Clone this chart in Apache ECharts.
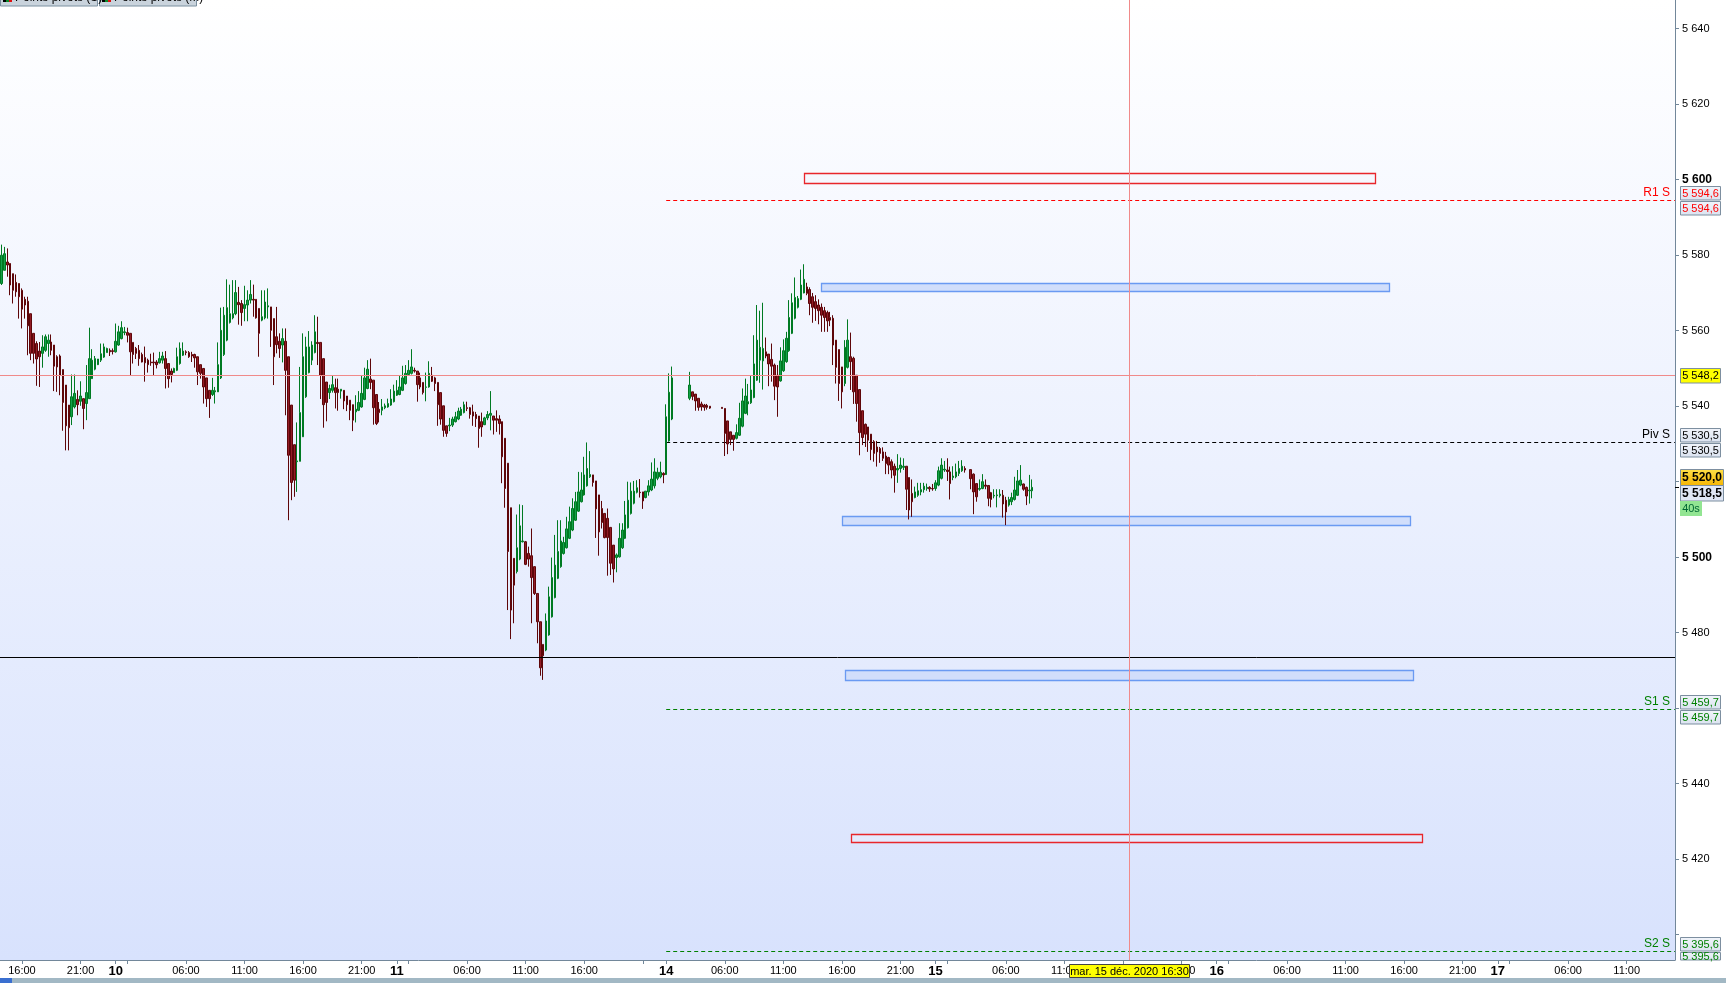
<!DOCTYPE html>
<html><head><meta charset="utf-8">
<script src="https://cdn.jsdelivr.net/npm/echarts@6/dist/echarts.min.js"></script>
<style>html,body{margin:0;padding:0;background:#fff;overflow:hidden}#c{width:1726px;height:983px}</style>
</head><body><div id="c"></div>
<script>
// ---- 15-minute candles, each row = [open, close, low, high]; null = no trading in that slot ----
const ohlcDec09 = [
[5572.5,5580.0,5572.1,5582.8],[5576.0,5580.4,5576.0,5582.2],[5578.2,5577.4,5574.3,5581.8],[5577.8,5572.1,5569.4,5577.8],
[5575.1,5570.7,5567.2,5575.1],[5572.8,5570.3,5569.0,5574.9],[5572.5,5569.0,5563.2,5572.5],[5570.7,5565.7,5560.6,5571.2],
[5568.3,5566.8,5563.2,5569.0],[5567.8,5561.3,5553.5,5569.0],[5564.5,5554.0,5552.2,5564.5],[5559.3,5554.0,5551.3,5559.3],
[5556.6,5552.5,5545.4,5557.2],[5554.6,5553.1,5545.1,5557.0],[5554.0,5555.7,5550.2,5558.8],[5554.8,5558.4,5554.4,5559.0],
[5556.6,5557.5,5553.1,5559.0],[5557.0,5554.8,5553.5,5559.0],[5556.2,5550.6,5544.0,5556.2],[5553.1,5550.4,5543.8,5553.5],
[5553.3,5548.2,5542.9,5553.7],[5549.7,5541.0,5533.5,5549.7],[5545.6,5534.8,5528.3,5545.6],[5540.3,5534.3,5528.3,5540.3],
[5537.2,5542.5,5535.0,5548.4],[5539.8,5543.4,5539.4,5548.4],[5541.8,5540.4,5537.6,5544.2],[5541.3,5542.7,5540.1,5546.6],
[5542.0,5539.4,5533.9,5542.0],[5540.7,5543.6,5536.3,5550.9],[5542.0,5552.6,5542.0,5560.8],[5547.3,5552.2,5547.2,5555.1],
[5549.8,5552.6,5549.5,5553.3],[5551.0,5552.5,5550.9,5552.5],[5552.2,5553.9,5551.7,5556.6],[5553.0,5555.7,5552.8,5556.6],
[5554.2,5555.3,5554.2,5555.5],[5554.8,5554.4,5553.3,5555.3],[5554.7,5554.5,5553.7,5555.3]
];
const ohlcDec10 = [
[5554.4,5557.2,5554.2,5561.9],[5556.2,5559.7,5556.0,5561.3],[5557.9,5560.8,5557.7,5562.5],[5559.5,5559.7,5558.8,5561.0],
[5559.5,5558.8,5556.9,5560.8],[5559.3,5554.4,5548.2,5559.3],[5556.9,5553.7,5551.3,5556.9],[5555.3,5554.0,5552.5,5555.7],
[5554.8,5552.6,5550.7,5556.2],[5553.7,5551.7,5551.6,5554.2],[5552.9,5551.5,5546.5,5555.8],[5552.2,5551.0,5548.9,5552.6],
[5551.7,5551.5,5550.7,5553.9],[5551.7,5551.5,5548.2,5554.2],[5551.7,5551.0,5550.0,5552.2],[5551.5,5552.6,5551.3,5554.4],
[5552.2,5553.3,5551.3,5554.4],[5552.6,5550.0,5544.7,5554.6],[5551.3,5547.3,5544.9,5551.3],[5549.3,5548.4,5546.3,5550.0],
[5548.9,5550.0,5548.9,5550.2],[5549.5,5553.1,5549.3,5555.5],[5551.3,5555.3,5551.0,5556.9],[5553.5,5554.6,5553.3,5556.9],
[5554.4,5554.2,5553.5,5554.8],[5554.2,5553.1,5552.8,5554.6],[5553.7,5553.3,5551.7,5554.4],[5553.7,5552.8,5550.2,5553.9],
[5553.1,5549.1,5545.6,5553.1],[5551.0,5548.7,5547.3,5551.0],[5550.0,5545.1,5540.7,5550.0],[5547.5,5542.0,5539.8,5547.5],
[5544.2,5542.0,5536.9,5544.2],[5543.1,5544.2,5542.7,5547.5],[5543.8,5544.1,5540.7,5545.1],[5543.8,5551.0,5543.8,5556.9],
[5547.5,5560.1,5547.2,5566.1],[5553.7,5564.1,5553.3,5566.3],[5557.5,5566.1,5557.2,5573.6],[5562.2,5564.5,5561.9,5572.2],
[5563.4,5564.5,5563.0,5573.4],[5564.5,5570.1,5564.1,5573.4],[5567.5,5566.9,5561.6,5571.6],[5567.2,5564.8,5561.3,5568.1],
[5565.9,5566.9,5562.5,5571.9],[5566.8,5568.1,5562.5,5570.7],[5568.1,5569.6,5567.2,5573.4],[5568.3,5568.1,5563.7,5572.2],
[5568.3,5563.4,5563.2,5568.3],[5565.9,5559.3,5553.1,5565.9],[5562.8,5563.7,5562.5,5570.7],[5563.4,5567.6,5563.0,5570.7],
[5566.3,5566.6,5563.2,5571.2],[5566.3,5560.1,5555.7,5566.3],[5563.2,5553.1,5545.6,5563.2],[5558.4,5556.3,5554.0,5566.3],
[5557.2,5555.3,5552.8,5559.3],[5556.2,5557.9,5551.6,5560.6],[5557.2,5549.5,5537.6,5560.6],[5553.1,5527.0,5509.8,5553.1],
[5540.3,5519.8,5515.1,5540.3],[5529.8,5520.4,5516.0,5529.8],[5525.3,5525.5,5517.3,5535.7],[5525.4,5538.3,5525.4,5550.4],
[5531.9,5553.1,5531.9,5559.3],[5542.5,5555.7,5542.2,5558.4],[5548.9,5555.7,5548.7,5559.9],[5552.2,5556.2,5550.9,5557.2],
[5554.2,5559.7,5554.0,5564.1],[5556.9,5556.6,5550.9,5563.7],[5556.9,5548.2,5541.9,5556.9],[5552.6,5540.4,5534.3,5552.6],
[5546.4,5541.0,5536.0,5546.4],[5543.6,5544.7,5541.9,5545.7],[5544.2,5545.7,5543.6,5548.0],[5544.9,5543.6,5539.4,5547.3],
[5544.5,5543.6,5538.8,5547.3],[5544.0,5544.5,5542.0,5544.5],[5544.2,5541.4,5539.2,5544.2],[5542.7,5540.4,5538.7,5542.7],
[5541.6,5538.9,5536.3,5541.6],[5540.4,5536.3,5533.4,5540.4],[5538.5,5539.2,5535.7,5542.9],[5538.9,5541.0,5538.7,5544.0],
[5539.8,5543.4,5539.6,5548.0],[5541.8,5547.5,5541.6,5550.2],[5544.7,5549.8,5544.5,5552.2],[5547.2,5546.3,5544.5,5552.6],
[5546.9,5539.6,5535.1,5546.9],[5543.1,5535.4,5535.0,5543.1],[5539.2,5538.3,5535.7,5541.1],[5538.9,5539.8,5537.6,5541.9],
[5539.6,5540.1,5539.2,5540.7],[5539.8,5540.7,5539.6,5542.0],[5540.3,5541.9,5540.1,5544.5],[5541.2,5544.0,5541.0,5545.7]
];
const ohlcDec11 = [
[5542.9,5544.2,5542.7,5546.9],[5543.1,5545.1,5542.9,5548.0],[5544.2,5547.5,5544.0,5550.7],[5546.0,5548.7,5545.7,5550.9],
[5548.4,5549.5,5548.0,5552.2],[5548.7,5550.4,5548.4,5555.1],[5549.5,5549.3,5548.9,5550.2],[5549.3,5545.7,5541.2,5549.3],
[5547.5,5545.1,5544.5,5548.9],[5546.3,5543.6,5543.1,5546.3],[5545.0,5545.1,5541.3,5548.9],[5545.1,5548.7,5544.9,5551.9],
[5548.2,5546.6,5546.4,5550.4],[5547.5,5546.0,5544.0,5547.8],[5546.3,5540.4,5534.8,5546.3],[5543.6,5536.6,5535.1,5543.6],
[5540.1,5533.6,5531.9,5540.1],[5534.8,5532.8,5531.9,5534.8],[5534.8,5535.0,5533.4,5536.9],[5535.0,5536.6,5534.5,5537.2],
[5535.9,5537.2,5535.7,5538.5],[5536.6,5538.7,5536.3,5539.6],[5537.6,5539.2,5537.4,5539.8],[5538.3,5540.4,5538.1,5541.2],
[5539.6,5539.4,5538.7,5541.2],[5539.6,5537.8,5536.7,5539.8],[5538.5,5537.4,5534.8,5540.4],[5537.8,5536.7,5534.5,5538.5],
[5537.4,5534.1,5529.0,5537.4],[5535.9,5534.5,5531.9,5538.3],[5535.1,5536.9,5535.0,5537.2],[5536.9,5537.8,5536.3,5538.7],
[5537.6,5538.1,5533.6,5544.0],[5537.4,5536.3,5532.5,5537.4],[5536.7,5536.3,5533.2,5538.9],[5536.6,5535.4,5532.5,5537.6],
[5535.9,5526.6,5519.6,5535.9],[5531.5,5518.2,5513.1,5531.5],[5524.9,5501.5,5486.0,5524.9],[5513.1,5486.0,5478.3,5513.1],
[5499.7,5492.6,5482.5,5499.7],[5496.2,5502.5,5495.7,5511.3],[5499.5,5508.3,5499.2,5514.0],[5504.1,5504.3,5503.9,5513.8],
[5504.1,5498.1,5497.9,5504.3],[5501.0,5499.5,5497.5,5502.8],[5500.4,5494.6,5482.5,5507.6],[5497.5,5490.4,5490.0,5497.5],
[5490.4,5482.9,5477.2,5490.4],[5482.9,5470.7,5468.6,5482.9],[5476.9,5473.9,5467.5,5476.9],[5475.4,5483.1,5475.1,5485.1],
[5479.4,5489.5,5479.2,5492.2],[5484.2,5494.6,5484.0,5499.9],[5489.3,5497.9,5489.1,5505.9],[5494.4,5501.5,5494.2,5509.8],
[5497.5,5504.3,5497.2,5509.8],[5501.0,5503.9,5500.7,5505.4],[5502.5,5507.5,5502.3,5510.7],[5505.0,5509.4,5504.8,5513.4],
[5507.2,5512.9,5506.9,5515.6],[5509.8,5514.7,5509.6,5517.3],[5512.2,5517.3,5512.0,5522.6],[5514.7,5517.8,5514.5,5522.5],
[5516.5,5521.8,5516.3,5526.6],[5518.9,5523.5,5518.7,5530.4],[5521.3,5521.9,5521.0,5528.1],[5521.8,5519.8,5518.7,5521.8],
[5520.2,5512.8,5505.1,5520.2],[5516.5,5506.7,5500.4,5516.5],[5512.9,5509.2,5507.6,5514.9],[5511.6,5505.2,5505.0,5511.6],
[5510.3,5505.2,5495.1,5512.9],[5507.9,5498.4,5495.3,5507.9],[5503.2,5496.9,5493.3,5503.2],[5499.9,5500.6,5496.0,5501.0],
[5500.1,5505.0,5499.9,5509.0],[5502.5,5507.2,5502.2,5509.0],[5505.0,5511.2,5504.8,5514.9],[5507.8,5515.1,5507.6,5520.0],
[5511.6,5517.5,5511.3,5519.8],[5514.3,5517.5,5514.0,5520.2],[5517.2,5518.4,5516.9,5520.4],[5517.2,5517.1,5515.8,5520.7],
[5517.3,5514.9,5512.8,5517.3],[5515.8,5517.5,5515.6,5517.5],[5517.3,5518.9,5516.3,5520.4],[5517.8,5520.7,5517.5,5525.1],
[5518.9,5522.6,5518.2,5526.2],[5520.9,5522.5,5520.4,5523.7],[5521.3,5522.5,5520.9,5525.3],[5522.2,5521.8,5519.6,5522.5]
];
const ohlcDec14 = [
[5521.9,5537.2,5521.8,5540.5],[5530.8,5543.7,5530.6,5548.7],[5536.6,5547.5,5536.3,5550.5],
null,null,null,null,null,
[5542.1,5545.6,5541.6,5549.1],[5543.8,5542.6,5541.6,5543.8],[5543.2,5541.4,5538.8,5543.2],[5542.1,5539.7,5538.8,5542.1],
[5540.6,5539.8,5538.8,5541.2],[5540.3,5539.7,5538.8,5540.6],[5540.2,5539.7,5539.1,5540.6],[5540.0,5539.5,5539.3,5540.0],
null,null,null,
[5539.7,5539.4,5539.4,5539.7],[5539.4,5532.8,5526.8,5539.4],[5536.1,5530.0,5527.3,5536.1],[5533.2,5531.2,5529.7,5533.2],
[5532.3,5531.2,5528.2,5532.3],[5531.5,5533.0,5531.2,5535.2],[5532.3,5536.8,5532.1,5540.9],[5534.7,5541.4,5534.4,5544.7],
[5538.1,5542.7,5537.9,5547.3],[5540.6,5541.2,5537.6,5545.9],[5540.9,5544.3,5540.6,5548.2],[5542.3,5551.2,5542.1,5558.8],
[5546.9,5557.5,5546.7,5566.8],[5552.2,5555.6,5546.2,5565.3],[5552.0,5555.3,5544.4,5567.4],[5554.4,5553.3,5552.7,5558.2],
[5553.8,5551.2,5545.3,5553.8],[5552.4,5550.6,5546.5,5556.6],[5550.9,5545.3,5541.6,5551.3],[5548.2,5545.1,5537.2,5550.9],
[5546.7,5552.0,5546.5,5555.6],[5549.4,5554.7,5549.1,5557.7],[5551.8,5558.0,5551.5,5559.7],[5554.7,5563.5,5554.4,5568.1],
[5559.3,5567.4,5559.1,5569.9],[5563.3,5568.8,5563.0,5574.1],[5566.2,5568.5,5565.9,5569.2],[5568.3,5572.1,5568.1,5576.2],
[5570.0,5573.6,5569.9,5577.6],[5571.6,5569.9,5569.4,5572.7],[5570.9,5567.2,5564.1,5571.5],[5569.0,5566.2,5562.1,5570.0],
[5567.7,5565.9,5562.6,5569.4],[5566.8,5565.3,5561.7,5568.3],[5566.2,5564.1,5559.7,5567.2],[5565.3,5563.5,5559.7,5566.3],
[5564.8,5562.6,5559.7,5565.3],[5563.5,5562.8,5561.2,5565.0],[5563.3,5556.2,5550.9,5564.1],[5557.5,5550.3,5546.0,5557.5],
[5555.0,5546.0,5541.4,5555.0],[5550.4,5543.8,5539.4,5550.4],[5546.0,5555.6,5545.3,5557.5],[5550.3,5557.5,5550.0,5563.0],
[5553.1,5551.8,5544.3,5559.5],[5552.7,5543.8,5540.6,5553.1],[5548.2,5540.7,5535.9,5548.2],[5544.4,5533.0,5527.0,5544.4],
[5538.8,5531.7,5529.7,5538.8],[5535.2,5532.6,5529.2,5535.4],[5534.5,5531.0,5527.9,5534.5],[5532.6,5528.5,5525.7,5532.6],
[5530.6,5527.5,5525.3,5531.0],[5529.2,5527.9,5524.0,5530.8],[5528.8,5527.5,5525.0,5529.2],[5527.9,5526.2,5525.5,5529.1],
[5526.8,5524.8,5522.0,5527.9],[5526.4,5524.4,5522.0,5526.6],[5525.3,5523.1,5520.9,5525.9],[5524.1,5521.7,5517.1,5524.8],
[5523.1,5523.5,5519.7,5527.3],[5523.5,5524.4,5522.4,5526.4],[5523.8,5524.1,5523.1,5526.2],[5524.1,5518.0,5512.5,5524.1],
[5521.1,5512.5,5510.0,5521.1],[5516.9,5514.7,5510.7,5520.6],[5515.8,5517.3,5515.6,5518.7],[5516.4,5517.6,5516.0,5519.7],
[5517.3,5517.9,5516.4,5519.7],[5517.9,5518.8,5517.1,5519.7],[5518.2,5518.5,5517.6,5519.5],[5518.5,5518.1,5517.3,5518.8],
[5518.2,5518.1,5517.6,5519.4]
];
const ohlcDec15 = [
[5518.2,5519.7,5517.6,5520.4],[5519.1,5522.9,5518.8,5524.0],[5520.9,5524.4,5520.6,5526.2],[5523.1,5523.3,5522.6,5525.5],
[5523.1,5522.7,5520.2,5526.2],[5522.6,5519.5,5515.3,5524.0],[5521.1,5521.5,5520.4,5524.1],[5521.3,5522.6,5520.9,5524.8],
[5522.2,5523.5,5521.5,5525.5],[5522.9,5524.1,5522.6,5525.7],[5523.5,5523.1,5522.4,5524.1],
null,
[5523.2,5520.8,5518.0,5523.2],[5522.0,5517.3,5511.4,5522.2],[5519.5,5516.0,5514.7,5519.5],[5518.0,5518.2,5517.6,5520.6],
[5518.2,5520.0,5518.0,5522.0],[5519.1,5518.8,5518.0,5520.6],[5519.0,5515.6,5513.5,5519.0],[5517.1,5515.3,5513.2,5517.3],
[5516.2,5516.4,5515.6,5518.0],[5516.3,5516.5,5513.2,5518.0],[5516.3,5516.7,5515.8,5518.0],[5516.4,5514.1,5510.5,5517.8],
[5515.1,5512.0,5508.5,5516.0],[5513.8,5515.3,5513.4,5516.0],[5514.7,5515.8,5513.8,5517.1],[5515.3,5517.8,5515.0,5521.3],
[5516.4,5520.2,5516.2,5523.1],[5519.1,5520.4,5518.8,5524.4],[5519.4,5518.0,5517.6,5519.5],[5518.5,5516.2,5513.8,5518.7],
[5517.6,5517.8,5514.2,5521.8],[5517.6,5518.5,5515.6,5520.6]
];

// ---- time axis (15-minute slots, weekend compressed) ----
const dayNames = ['09','10','11','14','15','16','17'];
const dayFirstHour = [0, 24, 48, 71, 94, 118, 142];   // compressed-hour where each day's slots begin
const dayZeroHour  = [0, 24, 48, 70, 94, 118, 142];   // compressed-hour that corresponds to 00:00 of that day
const firstSlotHour = 14.25, slotCount = 572;

const xLabelTimes = ['09/12 16:00','09/12 21:00','10/12 00:00','10/12 06:00','10/12 11:00','10/12 16:00','10/12 21:00',
  '11/12 00:00','11/12 06:00','11/12 11:00','11/12 16:00','14/12 01:00','14/12 06:00','14/12 11:00','14/12 16:00','14/12 21:00',
  '15/12 00:00','15/12 06:00','15/12 11:00','15/12 16:00','15/12 21:00','16/12 00:00','16/12 06:00','16/12 11:00','16/12 16:00',
  '16/12 21:00','17/12 00:00','17/12 06:00','17/12 11:00'];
const xLabelTexts = ['16:00','21:00','10','06:00','11:00','16:00','21:00','11','06:00','11:00','16:00','14','06:00','11:00','16:00','21:00',
  '15','06:00','11:00','16:00','21:00','16','06:00','11:00','16:00','21:00','17','06:00','11:00'];
const xTickOnlyTimes = ['10/12 01:00','11/12 01:00','11/12 21:00','15/12 01:00','16/12 01:00','17/12 01:00'];

// ---- price axis ----
const yMin = 5393.3, yMax = 5647.6;
const yTickValues = [5400,5420,5440,5460,5480,5500,5520,5540,5560,5580,5600,5620,5640];
const yHiddenLabels = [5400,5460,5520];

// ---- pivot points (S) ----
const pivotNames  = ['R1 S','Piv S','S1 S','S2 S'];
const pivotValues = [5594.6, 5530.5, 5459.7, 5395.6];
const pivotColors = ['#ff0000','#000000','#008000','#008000'];
const pivotStart  = '14/12 01:00';

// ---- drawn zones ----
const boxStart = ['14/12 12:45','14/12 14:15','14/12 16:00','14/12 16:15','14/12 16:45'];
const boxEnd   = ['16/12 13:30','16/12 14:45','16/12 16:30','16/12 16:45','16/12 17:30'];
const boxLow   = [5599.2, 5570.6, 5508.5, 5467.4, 5424.5];
const boxHigh  = [5601.8, 5572.6, 5510.8, 5470.0, 5426.8];
const boxKind  = ['red','blue','blue','blue','red'];

// ---- reference lines & tags ----
const cursorPrice = 5548.2, cursorTime = '15/12 16:30', cursorText = 'mar. 15 déc. 2020 16:30';
const blackLinePrice = 5473.5;
const bidPrice = 5520.0, lastPrice = 5518.5, countdownText = '40s';

// ================= build =================
const FONT = '"Liberation Sans", Arial, sans-serif';
function pad(n){ return (n<10?'0':'')+n; }
function slotName(k){
  const h = firstSlotHour + k/4;
  let d = 0;
  for (let i=0;i<dayFirstHour.length;i++) if (h >= dayFirstHour[i]-1e-9) d = i;
  const hh = h - dayZeroHour[d];
  const H = Math.floor(hh+1e-9), M = Math.round((hh-H)*60);
  return dayNames[d]+'/12 '+pad(H)+':'+pad(M);
}
const categories = [];
for (let k=0;k<slotCount;k++) categories.push(slotName(k));
const catIndex = {}; categories.forEach((c,i)=>catIndex[c]=i);

const allCandles = [].concat(ohlcDec09, ohlcDec10, ohlcDec11, ohlcDec14, ohlcDec15);
const candleData = categories.map((c,i)=>{
  const r = allCandles[i];
  return r ? r : ['-','-','-','-'];
});

const labelMap = {}; xLabelTimes.forEach((t,i)=>labelMap[t]=xLabelTexts[i]);
const tickSet = {}; xLabelTimes.concat(xTickOnlyTimes).forEach(t=>tickSet[t]=true);

function fmtPrice(v, dec){
  const s = dec ? v.toFixed(1).replace('.',',') : String(v);
  const ip = s.split(',')[0];
  return ip.slice(0,ip.length-3)+' '+ip.slice(ip.length-3)+(dec? ','+s.split(',')[1] : '');
}

const boxRows = boxStart.map((s,i)=>[catIndex[s], catIndex[boxEnd[i]], boxLow[i], boxHigh[i], i]);
const pivotRows = pivotValues.map((v,i)=>[catIndex[pivotStart], v, i]);

const chart = echarts.init(document.getElementById('c'), null, {renderer:'canvas'});
const option = {
  animation:false,
  backgroundColor:'#ffffff',
  grid:{left:0, right:51, top:0, bottom:23, show:true, borderWidth:0,
    backgroundColor:new echarts.graphic.LinearGradient(0,0,0,1,[{offset:0,color:'#ffffff'},{offset:1,color:'#d8e2fd'}])},
  xAxis:{
    type:'category', data:categories, boundaryGap:true,
    axisLine:{show:true, lineStyle:{color:'#72879a', width:1}},
    axisTick:{show:true, alignWithLabel:true, length:4, lineStyle:{color:'#72879a'},
      interval:(i,v)=>!!tickSet[v]},
    axisLabel:{show:true, margin:5, color:'#000', fontSize:11, fontFamily:FONT, hideOverlap:false,
      interval:(i,v)=>labelMap[v]!==undefined,
      formatter:(v)=>{ const t = labelMap[v]; if (t===undefined) return ''; return t.indexOf(':')<0 ? '{d|'+t+'}' : t; },
      rich:{d:{fontWeight:'bold', fontSize:13, fontFamily:FONT, color:'#000'}}},
    splitLine:{show:false}
  },
  yAxis:{
    type:'value', position:'right', min:yMin, max:yMax, scale:true,
    axisLine:{show:true, lineStyle:{color:'#72879a', width:1}},
    axisTick:{show:true, length:4, lineStyle:{color:'#72879a'}, customValues:yTickValues},
    axisLabel:{show:true, margin:7, color:'#000', fontSize:11, fontFamily:FONT,
      customValues:yTickValues.filter(v=>yHiddenLabels.indexOf(v)<0),
      formatter:(v)=> (v%100===0 ? '{b|'+fmtPrice(v)+'}' : fmtPrice(v)),
      rich:{b:{fontWeight:'bold', fontSize:12, fontFamily:FONT, color:'#000'}}},
    splitLine:{show:false}
  },
  series:[
    { type:'custom', name:'zones', z:1, clip:true,
      data:boxRows,
      renderItem:(params, api)=>{
        const p0 = api.coord([api.value(0), api.value(3)]);
        const p1 = api.coord([api.value(1), api.value(2)]);
        const kind = boxKind[api.value(4)];
        const y0 = Math.round(p0[1])+0.5, y1 = Math.round(p1[1])+0.5;
        return {type:'rect', shape:{x:Math.round(p0[0])+0.5, y:y0, width:Math.round(p1[0]-p0[0]), height:y1-y0},
          style: kind==='red' ? {fill:'rgba(240,244,255,0.35)', stroke:'#e8262b', lineWidth:1.3}
                              : {fill:'#d1defb', stroke:'#6a9af2', lineWidth:1.3}};
      }
    },
    { type:'custom', name:'pivots', z:2, clip:true,
      data:pivotRows,
      renderItem:(params, api)=>{
        const p = api.coord([api.value(0), api.value(1)]);
        const col = pivotColors[api.value(2)];
        const cs = params.coordSys; const xr = cs.x + cs.width;
        const y = Math.round(p[1])+0.5;
        return {type:'group', children:[
          {type:'line', shape:{x1:p[0], y1:y, x2:xr, y2:y}, style:{stroke:col, lineWidth:1, lineDash:[4,3]}},
          {type:'text', style:{text:pivotNames[api.value(2)], x:xr-5, y:y-2, textAlign:'right', textVerticalAlign:'bottom',
            fill:col, font:'12px '+FONT}}
        ]};
      }
    },
    { type:'candlestick', name:'CAC', z:3, data:candleData, barWidth:2, large:false,
      itemStyle:{color:'#14a04a', color0:'#921c26', borderColor:'#007a22', borderColor0:'#5e0609', borderWidth:1},
      markLine:{silent:true, symbol:['none','none'], animation:false, label:{show:false},
        data:[
          {yAxis:cursorPrice, lineStyle:{color:'#f08a8a', width:1, type:'solid'}},
          {yAxis:blackLinePrice, lineStyle:{color:'#000000', width:1, type:'solid'}},
          {xAxis:cursorTime, lineStyle:{color:'#f08a8a', width:1, type:'solid'}}
        ]}
    }
  ]
};
chart.setOption(option);

// ---- tags on the price scale and the time scale ----
function tag(x, y, w, h, text, o){
  return {type:'group', z:100, children:[
    {type:'rect', z:100, shape:{x:x+0.5, y:Math.round(y)+0.5, width:w, height:h},
      style:{fill:o.bg, stroke:o.border||'#7d8fa0', lineWidth:1}},
    {type:'text', z:101, style:{text:text, x:x+w/2+0.5, y:Math.round(y)+h/2+1, textAlign:'center', textVerticalAlign:'middle',
      fill:o.color||'#000', font:(o.font||('11px '+FONT))}}
  ]};
}
const yp = v => chart.convertToPixel({yAxisIndex:0}, v);
const tagX = 1680, tagW = 40, tagH = 13.5;
const tagBg = new echarts.graphic.LinearGradient(0,0,0,1,[{offset:0,color:'#f1f4fa'},{offset:1,color:'#dbe3f0'}]);
const g = [];
pivotValues.forEach((v,i)=>{
  const y = Math.round(yp(v));
  const txt = fmtPrice(v,true);
  g.push(tag(tagX, y-tagH-0.5, tagW, tagH, txt, {bg:tagBg, color:pivotColors[i]}));
  g.push(tag(tagX, y+0.5, tagW, Math.min(tagH, 959-(y+0.5)), txt, {bg:tagBg, color:pivotColors[i]}));
});
{ const y = yp(cursorPrice); g.push(tag(tagX, y-7.5, tagW, 14.5, fmtPrice(cursorPrice,true), {bg:'#ffff00'})); }
{ const yl = yp(lastPrice);
  const top = Math.round(yl) - 2;
  g.push(tag(tagX, top-16.5, 43, 16, fmtPrice(bidPrice,true),
    {bg:new echarts.graphic.LinearGradient(0,0,0,1,[{offset:0,color:'#ffe14a'},{offset:1,color:'#f5b400'}]), font:'bold 12px '+FONT}));
  g.push(tag(tagX, top, 43, 15.5, fmtPrice(lastPrice,true), {bg:'#dfe6f4', font:'bold 12px '+FONT}));
  g.push({type:'rect', z:100, shape:{x:tagX, y:top+16, width:22, height:15}, style:{fill:'#92e592'}});
  g.push({type:'text', z:101, style:{text:countdownText, x:tagX+11, y:top+24, textAlign:'center', textVerticalAlign:'middle', fill:'#063', font:'11px '+FONT}});
  g.push({type:'line', z:100, shape:{x1:1675, y1:Math.round(yl)+0.5, x2:1679, y2:Math.round(yl)+0.5}, style:{stroke:'#000', lineWidth:1}});
}
{ const xc = chart.convertToPixel({xAxisIndex:0}, cursorTime);
  g.push(tag(Math.round(xc)-60, 964, 120, 13, cursorText, {bg:'#ffff00', border:'#444'})); }
// bottom status strip and the indicator tabs at the top
g.push({type:'rect', z:90, shape:{x:0, y:978, width:1726, height:5}, style:{fill:'#a2b8c4'}});
g.push({type:'rect', z:91, shape:{x:0, y:978, width:12, height:5}, style:{fill:'#3a6fd0'}});
['Points pivots (S)','Points pivots (M)'].forEach((t,i)=>{
  const x0 = i*99;
  g.push({type:'rect', z:100, shape:{x:x0+0.5, y:-10, width:97, height:16}, style:{fill:'#c9d3dc', stroke:'#7b90a0', lineWidth:1}});
  g.push({type:'rect', z:101, shape:{x:x0+3, y:-4, width:3, height:6}, style:{fill:'#000'}});
  g.push({type:'rect', z:101, shape:{x:x0+6, y:-4, width:3, height:6}, style:{fill:'#0a8a2a'}});
  g.push({type:'rect', z:101, shape:{x:x0+9, y:-4, width:3, height:6}, style:{fill:'#e01010'}});
  g.push({type:'text', z:101, style:{text:t, x:x0+15, y:3.5, textAlign:'left', textVerticalAlign:'bottom', fill:'#000', font:'12px '+FONT}});
});
chart.setOption({graphic:g});
</script></body></html>
